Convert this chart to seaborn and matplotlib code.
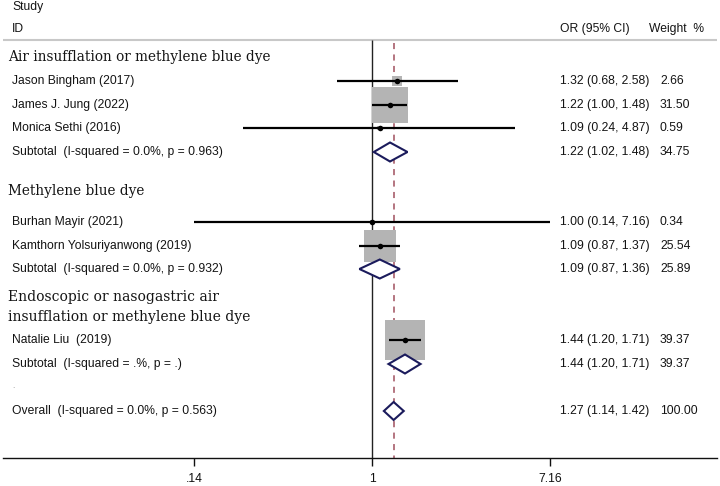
import numpy as np
import pandas as pd
import seaborn as sns
import matplotlib
matplotlib.use("Agg")
import matplotlib.pyplot as plt
from matplotlib import transforms
from matplotlib.ticker import NullLocator

# study level data
studies = ["Jason Bingham (2017)", "James J. Jung (2022)", "Monica Sethi (2016)",
           "Burhan Mayir (2021)", "Kamthorn Yolsuriyanwong (2019)", "Natalie Liu  (2019)"]
study_or = [1.32, 1.22, 1.09, 1.00, 1.09, 1.44]
study_lo = [0.68, 1.00, 0.24, 0.14, 0.87, 1.20]
study_hi = [2.58, 1.48, 4.87, 7.16, 1.37, 1.71]
study_weight = [2.66, 31.50, 0.59, 0.34, 25.54, 39.37]

# subgroup pooled estimates
subtotal_labels = ["Subtotal  (I-squared = 0.0%, p = 0.963)",
                   "Subtotal  (I-squared = 0.0%, p = 0.932)",
                   "Subtotal  (I-squared = .%, p = .)"]
subtotal_or = [1.22, 1.09, 1.44]
subtotal_lo = [1.02, 0.87, 1.20]
subtotal_hi = [1.48, 1.36, 1.71]
subtotal_weight = [34.75, 25.89, 39.37]

overall_label = "Overall  (I-squared = 0.0%, p = 0.563)"
overall_or = 1.27
overall_lo = 1.14
overall_hi = 1.42
overall_weight = 100.00

group_titles = ["Air insufflation or methylene blue dye",
                "Methylene blue dye",
                "Endoscopic or nasogastric air\ninsufflation or methylene blue dye"]

tick_values = [0.14, 1, 7.16]
tick_labels = [".14", "1", "7.16"]

# layout (rows measured in pixels from the top)
study_rows = [81, 105, 128, 222, 246, 340]
subtotal_rows = [152, 269, 364]
overall_row = 411
group_rows = [57, 191, 307]
group_sizes = [9.8, 9.8, 10.0]

sns.set_style("white")
plt.rcParams["font.family"] = ["Liberation Sans", "DejaVu Sans"]
txt_color = "#141414"
navy = "#1b1b5c"

fig = plt.figure(figsize=(7.2, 4.86), dpi=100)
ax = fig.add_axes([3 / 720, 28 / 486, 714 / 720, 458 / 486])

px_per_ln = 90.5
x_one = 372
xlim = (np.exp((3 - x_one) / px_per_ln), np.exp((717 - x_one) / px_per_ln))
ax.set_xscale("log")
ax.set_xlim(xlim)
ax.set_ylim(458, 0)

df = pd.DataFrame({"study": studies, "or": study_or, "lo": study_lo,
                   "hi": study_hi, "weight": study_weight, "row": study_rows})

# reference lines
ax.axhline(40, color="#c8c8c8", lw=1.5, zorder=1)
ax.vlines(1, 40, 458, color="#222222", lw=1.0, zorder=1)
ax.vlines(overall_or, 43, 458, color="#a0505e", lw=1.1,
          linestyles=(0, (4, 3.5)), zorder=1)

# weight boxes, area proportional to weight
k = (40 * 0.72) ** 2 / max(study_weight)
wmin, wmax = min(study_weight), max(study_weight)
sns.scatterplot(data=df, x="or", y="row", size="weight",
                sizes=(k * wmin, k * wmax), size_norm=(wmin, wmax),
                marker="s", color="#b4b4b4", linewidth=0, legend=False,
                zorder=2, ax=ax)

ax.hlines(df["row"], df["lo"], df["hi"], color="black", lw=1.6, zorder=3)
sns.scatterplot(data=df, x="or", y="row", color="black", s=16, marker="o",
                linewidth=0, legend=False, zorder=4, ax=ax)

# diamonds
for est, lo, hi, y in zip(subtotal_or + [overall_or], subtotal_lo + [overall_lo],
                          subtotal_hi + [overall_hi], subtotal_rows + [overall_row]):
    h = 9 if y == overall_row else 9.5
    ax.fill([lo, est, hi, est], [y, y - h, y, y + h], facecolor="white",
            edgecolor=navy, lw=1.5, zorder=5)

# x axis
for side in ["top", "left", "right"]:
    ax.spines[side].set_visible(False)
ax.spines["bottom"].set_color("#111111")
ax.spines["bottom"].set_linewidth(1.0)
ax.set_xticks(tick_values)
ax.set_xticklabels(tick_labels)
ax.xaxis.set_minor_locator(NullLocator())
ax.tick_params(axis="x", length=6, width=1, direction="out", pad=4.5,
               labelsize=8.7, colors="#111111", bottom=True)
ax.set_yticks([])
ax.set_xlabel("")
ax.set_ylabel("")

# text columns
tr = transforms.blended_transform_factory(fig.transFigure, ax.transData)


def put(xpx, y, s, **kw):
    kw.setdefault("fontsize", 8.7)
    kw.setdefault("color", txt_color)
    ax.text(xpx / 720, y, s, transform=tr, va="center", ha="left", **kw)


put(12, 7, "Study")
put(12, 29, "ID")
put(560, 29, "OR (95% CI)")
put(649, 29, "Weight  %")

for title, y, fs in zip(group_titles, group_rows, group_sizes):
    put(8, y, title, family="DejaVu Serif", fontsize=fs, linespacing=1.6)

for name, est, lo, hi, w, y in zip(studies, study_or, study_lo, study_hi,
                                  study_weight, study_rows):
    put(12, y, name)
    put(560, y, f"{est:.2f} ({lo:.2f}, {hi:.2f})")
    put(660, y, f"{w:.2f}")

for name, est, lo, hi, w, y in zip(subtotal_labels, subtotal_or, subtotal_lo,
                                  subtotal_hi, subtotal_weight, subtotal_rows):
    put(12, y, name)
    put(560, y, f"{est:.2f} ({lo:.2f}, {hi:.2f})")
    put(660, y, f"{w:.2f}")

put(12, 386, ".", fontsize=6, color="#888888")
put(12, overall_row, overall_label)
put(560, overall_row, f"{overall_or:.2f} ({overall_lo:.2f}, {overall_hi:.2f})")
put(660, overall_row, f"{overall_weight:.2f}")

fig.savefig("out.png", dpi=100)
